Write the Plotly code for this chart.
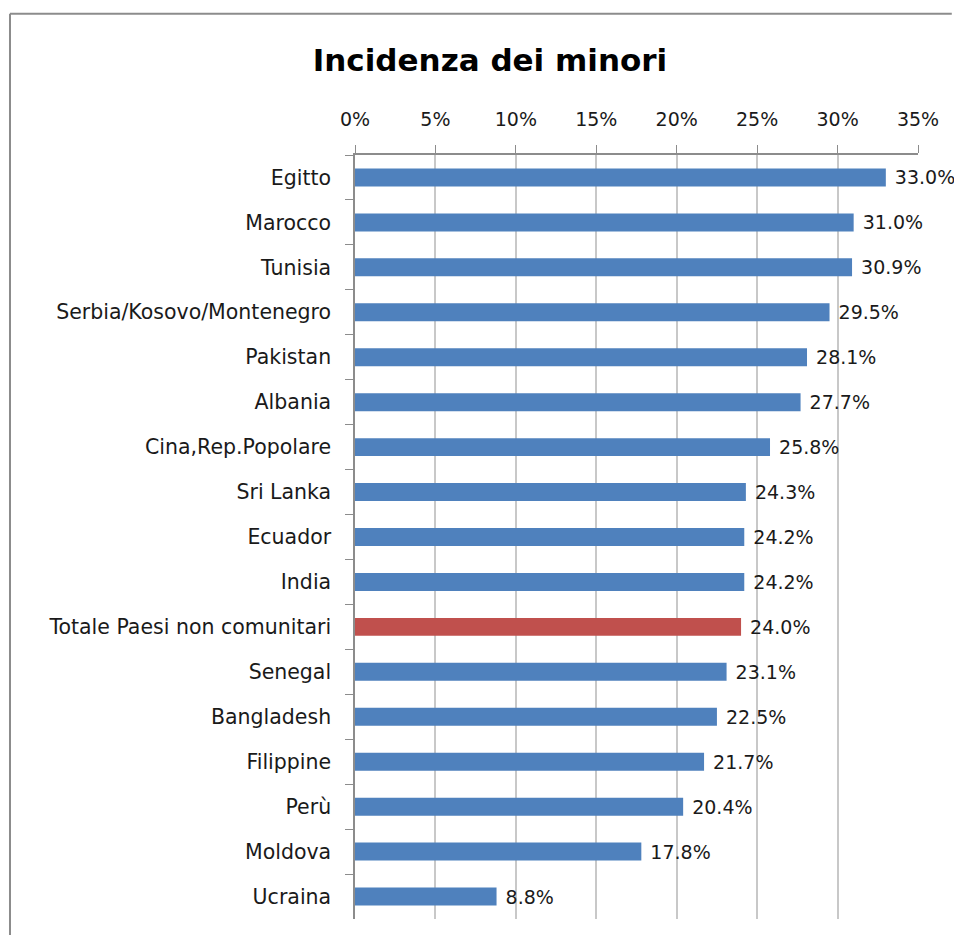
import plotly.graph_objects as go

# data
paesi = ["Egitto", "Marocco", "Tunisia", "Serbia/Kosovo/Montenegro", "Pakistan", "Albania",
         "Cina,Rep.Popolare", "Sri Lanka", "Ecuador", "India", "Totale Paesi non comunitari",
         "Senegal", "Bangladesh", "Filippine", "Perù", "Moldova", "Ucraina"]
incidenza = [33.0, 31.0, 30.9, 29.5, 28.1, 27.7, 25.8, 24.3, 24.2, 24.2, 24.0,
             23.1, 22.5, 21.7, 20.4, 17.8, 8.8]
tick_vals = [0, 5, 10, 15, 20, 25, 30, 35]
tick_text = ["0%", "5%", "10%", "15%", "20%", "25%", "30%", "35%"]

BLUE = "#4F81BD"
RED = "#C0504D"
FONT = "DejaVu Sans"
TXT = "#1a1a1a"

colori = [RED if p.startswith("Totale") else BLUE for p in paesi]
etichette = [f" {v:.1f}%" for v in incidenza]

fig = go.Figure()
fig.add_trace(go.Bar(
    x=incidenza, y=paesi, orientation="h",
    marker=dict(color=colori, line=dict(width=0)),
    text=etichette, textposition="outside", cliponaxis=False,
    constraintext="none",
    textfont=dict(family=FONT, size=19, color=TXT),
    hoverinfo="skip",
))

fig.update_xaxes(
    side="top", range=[0, 35], tickvals=tick_vals, ticktext=tick_text,
    showgrid=True, gridcolor="#C8C8C8", gridwidth=1.5,
    showline=True, linecolor="#8C8C8C", linewidth=1.5,
    ticks="outside", ticklen=8, tickcolor="#8C8C8C",
    ticklabelstandoff=12,
    tickfont=dict(family=FONT, size=19, color=TXT),
    zeroline=False, fixedrange=True,
)
fig.update_yaxes(
    autorange="reversed", tickson="boundaries",
    showline=True, linecolor="#8C8C8C", linewidth=1.5,
    ticks="outside", ticklen=8, tickcolor="#8C8C8C",
    ticklabelstandoff=18,
    tickfont=dict(family=FONT, size=20.5, color=TXT),
    showgrid=False, fixedrange=True,
)

# outer chart frame: only the left and top edges show in the picture
frame = dict(color="#8C8C8C", width=2)
fig.add_shape(type="line", xref="paper", yref="paper",
              x0=-0.6128, x1=1.06, y0=1.185, y1=1.185, line=frame)
fig.add_shape(type="line", xref="paper", yref="paper",
              x0=-0.6128, x1=-0.6128, y0=1.185, y1=-0.1, line=frame)

# page body has an 8px margin, so the figure is drawn smaller and shifted
fig.update_layout(
    width=946, height=927,
    margin=dict(l=347, r=36, t=147, b=16),
    title=dict(text="<b>Incidenza dei minori</b>", x=482 / 946, xanchor="center",
               y=1 - 52 / 927, yanchor="middle",
               font=dict(family=FONT, size=31, color="#000000")),
    bargap=0.6, plot_bgcolor="white", paper_bgcolor="white",
    showlegend=False,
)

fig.write_html("out.html")
